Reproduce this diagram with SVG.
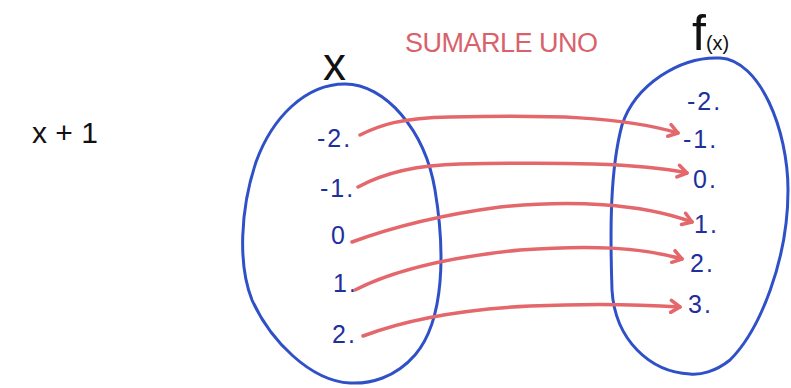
<svg xmlns="http://www.w3.org/2000/svg" width="791" height="388" viewBox="0 0 791 388">
<style>
.set{fill:none;stroke:#3050c8;stroke-width:3;stroke-linecap:round}
.num{font-family:"Liberation Sans",Arial,sans-serif;font-size:25px;fill:#1e2fa0;letter-spacing:2px}
.lab{font-family:"Liberation Sans",Arial,sans-serif;fill:#111}
.arr{fill:none;stroke:#e4676c;stroke-width:3.5;stroke-linecap:round;marker-end:url(#head)}
</style>
<defs>
<marker id="head" markerUnits="userSpaceOnUse" markerWidth="16" markerHeight="16" refX="11" refY="7" orient="auto" viewBox="0 0 16 14">
<path d="M2,1 L11,7 L2,13" fill="none" stroke="#e4676c" stroke-width="3.5" stroke-linecap="round" stroke-linejoin="round"/>
</marker>
</defs>
<rect width="791" height="388" fill="#ffffff"/>
<g id="formula"><text class="lab" x="32" y="143" font-size="30">x + 1</text></g>
<g id="title"><text x="405" y="52" font-family="'Liberation Sans',Arial,sans-serif" font-size="27" fill="#d9626a" textLength="193" lengthAdjust="spacing">SUMARLE UNO</text></g>
<g id="domain">
<path class="set" d="M345 84 C385 84 425 130 435 190 C445 250 445 320 415 355 C395 378 370 384 350 383 C310 381 270 340 252 300 C238 265 240 210 256 162 C272 118 305 84 345 84 Z"/>
<text class="lab" x="323" y="80" font-size="46">x</text>
</g>
<g id="codomain">
<path class="set" d="M720 58 C760 60 788 130 788 190 C788 260 760 330 730 360 C715 372 700 375 690 374 C650 372 615 340 612 290 C610 230 610 170 622 125 C635 85 680 56 720 58 Z"/>
<text class="lab" x="692" y="50"><tspan font-size="50">f</tspan><tspan font-size="20">(x)</tspan></text>
</g>
<g id="d-m2"><text class="num" x="317" y="147">-2.</text></g>
<g id="d-m1"><text class="num" x="320" y="197">-1.</text></g>
<g id="d-0"><text class="num" x="331" y="244">0</text></g>
<g id="d-1"><text class="num" x="333" y="292">1.</text></g>
<g id="d-2"><text class="num" x="332" y="343">2.</text></g>
<g id="c-m2"><text class="num" x="687" y="110">-2.</text></g>
<g id="c-m1"><text class="num" x="683" y="148">-1.</text></g>
<g id="c-0"><text class="num" x="693" y="188">0.</text></g>
<g id="c-1"><text class="num" x="694" y="233">1.</text></g>
<g id="c-2"><text class="num" x="690" y="272">2.</text></g>
<g id="c-3"><text class="num" x="688" y="313">3.</text></g>
<g id="connectors">
<path class="arr" d="M360 135 C380 125 400 118 450 117 C550 115 620 116 678 133"/>
<path class="arr" d="M358 187 C380 175 410 165 460 164 C560 162 640 163 687 173"/>
<path class="arr" d="M352 242 C390 228 440 215 500 207 C570 200 640 203 692 222"/>
<path class="arr" d="M355 290 C390 272 440 258 520 250 C590 245 640 247 682 259"/>
<path class="arr" d="M363 336 C400 322 450 310 530 306 C600 303 650 305 680 307"/>
</g>
</svg>
